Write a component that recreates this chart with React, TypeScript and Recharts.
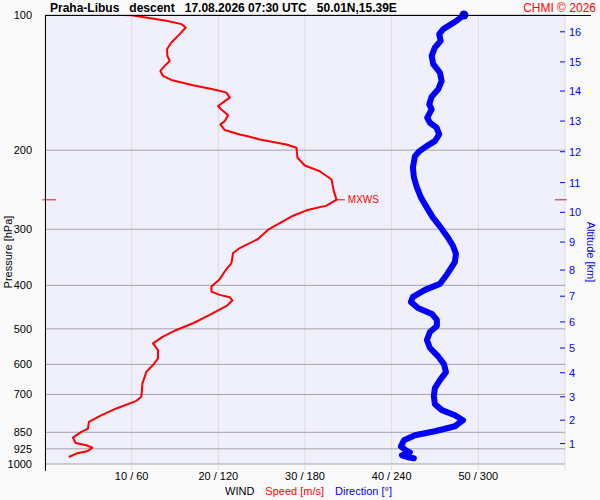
import React from 'react';
import {
  ComposedChart,
  Scatter,
  XAxis,
  YAxis,
  CartesianGrid,
  ReferenceLine,
  ReferenceDot,
} from 'recharts';

// axis ticks
const pressureTicks = [100, 200, 300, 400, 500, 600, 700, 850, 925, 1000];
const speedTicks = [0, 10, 20, 30, 40, 50, 60];
const speedTickLabels = ['', '10 / 60', '20 / 120', '30 / 180', '40 / 240', '50 / 300', ''];
const altitudeKm = [1, 2, 3, 4, 5, 6, 7, 8, 9, 10, 11, 12, 13, 14, 15, 16];
const altitudePressure = [
  900.5, 798.7, 708.6, 626.3, 551.6, 482.6, 422.9, 369.9, 320.4, 275.1, 236.2, 201.6, 172.3,
  147.7, 127.2, 109.0,
];

// wind speed profile [m/s] vs pressure [hPa]
const speedPressure = [
  100, 100.1, 103.0, 104.8, 106.6, 110.3, 115.1, 119.2, 123.3, 126.6, 129.8, 133.2, 136.7, 139.5,
  143.4, 146.9, 148.9, 152.8, 155.5, 159.5, 162.3, 167.3, 172.3, 175.2, 180.4, 184.5, 186.7, 189.3,
  194.3, 197.6, 208.0, 216.4, 222.8, 232.5, 247.0, 257.7, 265.8, 272.3, 279.9, 290.6, 300.7, 315.4,
  330.4, 338.9, 356.8, 372.6, 387.5, 402.5, 413.0, 420.1, 425.1, 432.5, 444.5, 465.5, 485.9, 502.9,
  520.5, 538.5, 557.4, 581.6, 602.0, 623.1, 661.4, 708.6, 723.3, 752.1, 782.5, 806.0, 833.8, 848.4,
  873.2, 897.8, 908.4, 919.3, 935.5, 948.0, 964.7,
];
const speedValues = [
  8.96, 9.97, 14.0, 15.74, 16.24, 15.54, 14.58, 14.08, 14.12, 14.39, 13.81, 13.31, 13.61, 14.58,
  17.08, 19.78, 20.94, 21.32, 20.74, 19.97, 20.36, 21.12, 20.74, 20.24, 20.74, 22.47, 23.63, 24.78,
  27.86, 29.02, 29.13, 29.98, 31.71, 33.06, 33.33, 33.64, 32.48, 30.17, 28.63, 27.09, 25.74, 24.58,
  22.47, 21.7, 21.51, 20.74, 20.16, 19.2, 19.2, 20.16, 21.32, 21.63, 20.94, 19.01, 17.08, 15.16,
  13.61, 12.46, 13.04, 13.04, 12.46, 11.7, 11.24, 11.12, 10.54, 8.23, 6.3, 5.07, 4.95, 4.19, 3.22,
  3.53, 4.77, 5.46, 4.95, 3.61, 2.76,
];

// wind direction profile [deg] vs pressure [hPa]
const dirPressure = [
  100, 103.0, 107.5, 110.3, 114.2, 118.1, 123.3, 128.7, 134.3, 140.3, 146.4, 152.0, 158.1, 162.3,
  169.3, 173.8, 178.2, 184.5, 190.9, 195.9, 201.1, 206.3, 218.7, 230.1, 242.3, 255.1, 268.5, 282.7,
  297.7, 313.3, 326.6, 340.3, 354.6, 369.4, 380.9, 397.0, 409.5, 424.4, 435.4, 449.2, 463.3, 477.7,
  492.7, 508.1, 529.5, 551.6, 574.8, 599.1, 624.3, 650.6, 677.8, 706.0, 735.6, 758.7, 778.6, 798.8,
  823.9, 845.3, 862.9, 885.4, 913.2, 932.2, 941.9, 956.3, 966.1, 971.2,
];
const dirValues = [
  290.0, 285.0, 275.7, 272.9, 273.9, 269.9, 267.7, 268.8, 273.4, 274.6, 272.2, 267.7, 266.0, 267.7,
  264.6, 266.5, 271.1, 272.9, 269.9, 264.2, 259.1, 256.1, 254.7, 255.4, 257.5, 260.3, 264.4, 268.6,
  274.1, 279.0, 282.4, 284.5, 283.8, 280.3, 277.6, 273.4, 263.1, 254.7, 253.3, 258.2, 267.9, 271.3,
  271.3, 266.5, 264.4, 266.5, 272.0, 276.2, 277.6, 273.4, 269.9, 269.2, 269.9, 274.8, 283.8, 289.4,
  283.8, 269.9, 256.1, 248.5, 246.4, 249.9, 252.6, 247.1, 251.2, 255.4,
];

// max wind
const maxWindSpeed = 33.6;
const maxWindPressure = 258;

const RED = '#ff0000';
const BLUE = '#0000ff';
const FONT = '"Liberation Sans", Arial, sans-serif';

const speedData = speedValues.map((v, i) => ({ x: v, p: speedPressure[i] }));
// direction is drawn on the same axis: 60 m/s <-> 360 deg
const dirData = dirValues.map((d, i) => ({ x: d / 6, p: dirPressure[i] }));

const NoDot = () => <g />;

const AltTick = (props: any) => {
  const { x, y, payload } = props;
  const i = altitudePressure.indexOf(payload.value);
  return (
    <g>
      <line x1={x - 5} x2={x} y1={y} y2={y} stroke={BLUE} strokeWidth={1} />
      <text x={x + 4} y={y} dy={4} fill={BLUE} fontSize={11} fontFamily={FONT}>
        {altitudeKm[i]}
      </text>
    </g>
  );
};

const App: React.FC = () => {
  return (
    <div
      style={{
        position: 'absolute',
        left: 0,
        top: 0,
        width: 600,
        height: 500,
        background: '#fafafa',
        fontFamily: FONT,
      }}
    >
      <ComposedChart width={600} height={500} margin={{ top: 15, right: 0, bottom: 0, left: 0 }}>
        <CartesianGrid horizontal={false} stroke="#dcdcdc" fill="#f0f0fd" />
        <CartesianGrid vertical={false} stroke="#a4a4a4" />
        <XAxis
          type="number"
          dataKey="x"
          domain={[0, 60]}
          ticks={speedTicks}
          interval={0}
          allowDataOverflow
          height={36}
          axisLine={false}
          tickSize={6}
          tickMargin={2}
          tickLine={{ stroke: '#dcdcdc' }}
          tick={{ fill: '#000', fontSize: 11 }}
          tickFormatter={(v: number) => speedTickLabels[speedTicks.indexOf(v)]}
        />
        <YAxis
          type="number"
          dataKey="p"
          scale="log"
          domain={[100, 1000]}
          ticks={pressureTicks}
          interval={0}
          reversed
          allowDataOverflow
          width={45}
          axisLine={false}
          tickLine={false}
          tickMargin={7}
          tick={{ fill: '#000', fontSize: 11 }}
        />
        <YAxis
          yAxisId="alt"
          orientation="right"
          type="number"
          dataKey="p"
          scale="log"
          domain={[100, 1000]}
          ticks={altitudePressure}
          interval={0}
          reversed
          allowDataOverflow
          width={35}
          axisLine={false}
          tickLine={false}
          tickSize={0}
          tickMargin={0}
          tick={<AltTick />}
        />
        <Scatter
          data={speedData}
          fill={RED}
          shape={<NoDot />}
          line={{ stroke: RED, strokeWidth: 2, strokeLinejoin: 'round' }}
          isAnimationActive={false}
        />
        <Scatter
          yAxisId="alt"
          data={dirData}
          fill={BLUE}
          shape={<NoDot />}
          line={{ stroke: BLUE, strokeWidth: 6, strokeLinejoin: 'round', strokeLinecap: 'round' }}
          isAnimationActive={false}
        />
        <ReferenceDot
          x={dirValues[0] / 6}
          y={dirPressure[0]}
          r={4.5}
          fill={BLUE}
          stroke="none"
          ifOverflow="visible"
        />
        <ReferenceLine
          segment={[
            { x: -0.3, y: maxWindPressure },
            { x: 1.25, y: maxWindPressure },
          ]}
          stroke={RED}
          ifOverflow="visible"
        />
        <ReferenceLine
          segment={[
            { x: 58.85, y: maxWindPressure },
            { x: 60.2, y: maxWindPressure },
          ]}
          stroke={RED}
          ifOverflow="visible"
        />
        <ReferenceLine
          segment={[
            { x: maxWindSpeed, y: maxWindPressure },
            { x: maxWindSpeed + 1, y: maxWindPressure },
          ]}
          stroke={RED}
          ifOverflow="visible"
          label={{ value: 'MXWS', position: 'right', fill: RED, fontSize: 10, offset: 3 }}
        />
      </ComposedChart>

      {/* frame lines */}
      <div style={{ position: 'absolute', left: 45, top: 15, width: 546, height: 1, background: '#000' }} />
      <div style={{ position: 'absolute', left: 45, top: 15, width: 1, height: 456, background: '#000' }} />

      {/* title */}
      <div
        style={{
          position: 'absolute',
          left: 50,
          top: 1,
          fontSize: 12,
          lineHeight: '14px',
          fontWeight: 'bold',
          color: '#000',
          whiteSpace: 'pre',
        }}
      >
        {'Praha-Libus   descent   17.08.2026 07:30 UTC   50.01N,15.39E'}
      </div>
      <div
        style={{
          position: 'absolute',
          right: 4,
          top: 1,
          fontSize: 12,
          lineHeight: '14px',
          color: RED,
        }}
      >
        CHMI © 2026
      </div>

      {/* axis titles */}
      <div
        style={{
          position: 'absolute',
          left: 8,
          top: 252,
          fontSize: 11,
          lineHeight: '13px',
          color: '#000',
          whiteSpace: 'nowrap',
          transform: 'translate(-50%, -50%) rotate(-90deg)',
        }}
      >
        Pressure [hPa]
      </div>
      <div
        style={{
          position: 'absolute',
          left: 590,
          top: 252,
          fontSize: 11,
          lineHeight: '13px',
          color: BLUE,
          whiteSpace: 'nowrap',
          transform: 'translate(-50%, -50%) rotate(90deg)',
        }}
      >
        Altitude [km]
      </div>
      <div
        style={{
          position: 'absolute',
          left: 225,
          top: 485,
          fontSize: 11,
          lineHeight: '13px',
          whiteSpace: 'nowrap',
        }}
      >
        <span style={{ color: '#000' }}>WIND</span>
        <span style={{ color: RED, marginLeft: 11 }}>Speed [m/s]</span>
        <span style={{ color: BLUE, marginLeft: 11 }}>Direction [°]</span>
      </div>
    </div>
  );
};

export default App;
